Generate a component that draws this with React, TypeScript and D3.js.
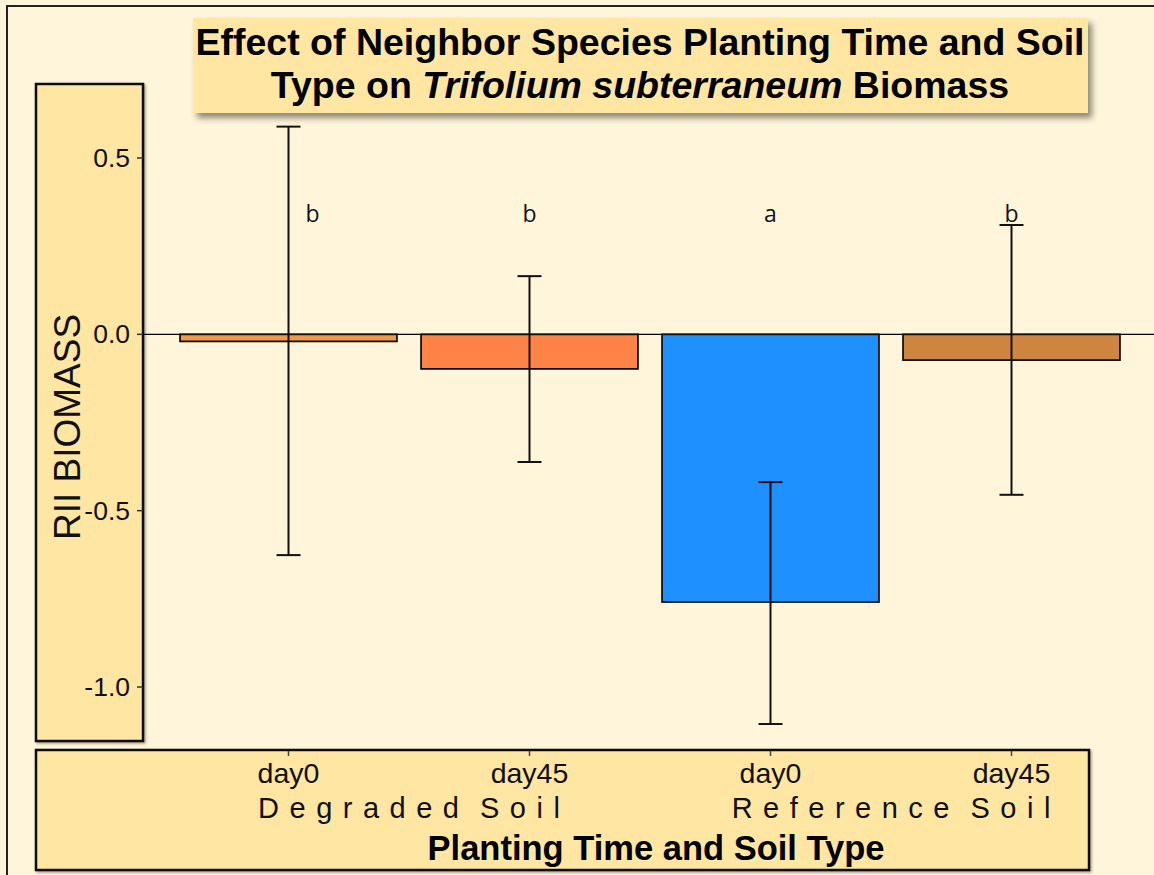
import * as d3 from 'd3';

// RII biomass of Trifolium subterraneum by planting time and soil type
const groups = ['Degraded Soil', 'Degraded Soil', 'Reference Soil', 'Reference Soil'];
const days = ['day0', 'day45', 'day0', 'day45'];
const means = [-0.02, -0.098, -0.759, -0.073];
const errUpper = [0.589, 0.165, -0.419, 0.31];
const errLower = [-0.626, -0.362, -1.105, -0.455];
const letters = ['b', 'b', 'a', 'b'];
const barColors = ['#EE9A49', '#FF8247', '#1E90FF', '#CD853F'];
const yTicks = [0.5, 0.0, -0.5, -1.0];
const groupNames = ['Degraded Soil', 'Reference Soil'];

const W = 1154;
const H = 875;
const SANS = '"Liberation Sans", Arial, sans-serif';
const BG = '#FFF5DA';
const BOX = '#FFE6A2';

export default function App() {
  const keys = means.map((_, i) => `${days[i]}-${i}`);

  const x = d3
    .scaleBand()
    .domain(keys)
    .range([168, 1132])
    .paddingInner(0.1)
    .paddingOuter(0.05);

  const y = d3.scaleLinear().domain([-1.0, 0.5]).range([687, 158]);

  const cx = (i: number) => (x(keys[i]) || 0) + x.bandwidth() / 2;
  const cap = 12;
  const letterY = 0.34;
  const spread = 10.5; // letter spacing of the soil labels

  const groupCenter = (g: string) => {
    const idx = groups.map((d, i) => (d === g ? i : -1)).filter((i) => i >= 0);
    return d3.mean(idx, (i) => cx(i)) || 0;
  };

  return (
    <svg
      width={W}
      height={H}
      style={{ position: 'absolute', left: 0, top: 0, background: BG }}
      fontFamily={SANS}
    >
      <defs>
        <filter id="shadow" x="-5%" y="-20%" width="115%" height="160%">
          <feDropShadow dx="4" dy="5" stdDeviation="3" floodColor="#000" floodOpacity="0.45" />
        </filter>
        <filter id="shadowSmall" x="-5%" y="-5%" width="115%" height="115%">
          <feDropShadow dx="1.5" dy="1.5" stdDeviation="0.8" floodColor="#000" floodOpacity="0.35" />
        </filter>
      </defs>

      {/* outer frame */}
      <rect x={0} y={0} width={W} height={H} fill={BG} />
      <rect x={7} y={6} width={W + 20} height={H + 20} fill="none" stroke="#222" strokeWidth={2} />

      {/* y label box */}
      <rect x={36} y={84} width={107} height={657} fill={BOX} stroke="#111" strokeWidth={2.5} filter="url(#shadowSmall)" />
      {/* x label box */}
      <rect x={36} y={750} width={1053} height={120} fill={BOX} stroke="#111" strokeWidth={2.5} filter="url(#shadowSmall)" />

      {/* title box */}
      <rect x={193} y={18} width={895} height={95} fill={BOX} filter="url(#shadow)" />
      <text x={640} y={55} textAnchor="middle" fontSize={37.5} fontWeight="bold" fill="#000">
        Effect of Neighbor Species Planting Time and Soil
      </text>
      <text x={640} y={98} textAnchor="middle" fontSize={37.5} fontWeight="bold" fill="#000">
        Type on <tspan fontStyle="italic">Trifolium subterraneum</tspan> Biomass
      </text>

      {/* zero line */}
      <line x1={143} x2={W} y1={y(0)} y2={y(0)} stroke="#000" strokeWidth={1.2} />

      {/* bars */}
      {means.map((m, i) => (
        <rect
          key={`bar-${i}`}
          x={x(keys[i])}
          y={y(Math.max(0, m))}
          width={x.bandwidth()}
          height={Math.abs(y(m) - y(0))}
          fill={barColors[i]}
          stroke="#111"
          strokeWidth={1.8}
        />
      ))}

      {/* error bars */}
      {means.map((_, i) => (
        <g key={`err-${i}`} stroke="#111" strokeWidth={2}>
          <line x1={cx(i)} x2={cx(i)} y1={y(errUpper[i])} y2={y(errLower[i])} />
          <line x1={cx(i) - cap} x2={cx(i) + cap} y1={y(errUpper[i])} y2={y(errUpper[i])} />
          <line x1={cx(i) - cap} x2={cx(i) + cap} y1={y(errLower[i])} y2={y(errLower[i])} />
        </g>
      ))}

      {/* significance letters; the first is nudged clear of its error bar */}
      {letters.map((l, i) => (
        <text
          key={`let-${i}`}
          x={cx(i) + (i === 0 ? 2 * cap : 0)}
          y={y(letterY) + 8}
          textAnchor="middle"
          fontSize={23}
          fontFamily='"Open Sans", "Noto Sans", sans-serif'
          fill="#111"
        >
          {l}
        </text>
      ))}

      {/* y axis */}
      {yTicks.map((t) => (
        <g key={`yt-${t}`}>
          <line x1={137} x2={143} y1={y(t)} y2={y(t)} stroke="#333" strokeWidth={1.5} />
          <text x={130} y={y(t) + 9} textAnchor="end" fontSize={26.5} fill="#111">
            {d3.format('.1f')(t).replace('−', '-')}
          </text>
        </g>
      ))}
      <text
        transform={`translate(80, 427) rotate(-90)`}
        textAnchor="middle"
        fontSize={37}
        fill="#111"
      >
        RII BIOMASS
      </text>

      {/* x axis */}
      {days.map((d, i) => (
        <g key={`xt-${i}`}>
          <line x1={cx(i)} x2={cx(i)} y1={751} y2={756} stroke="#444" strokeWidth={1.5} />
          <text x={cx(i)} y={783} textAnchor="middle" fontSize={28.5} fill="#111">
            {d}
          </text>
        </g>
      ))}
      {groupNames.map((g) => (
        <text
          key={g}
          x={groupCenter(g) + spread / 2}
          y={818}
          textAnchor="middle"
          fontSize={29}
          letterSpacing={spread}
          wordSpacing={-8}
          fill="#111"
        >
          {g}
        </text>
      ))}
      <text x={656} y={860} textAnchor="middle" fontSize={34.5} fontWeight="bold" fill="#000">
        Planting Time and Soil Type
      </text>
    </svg>
  );
}
